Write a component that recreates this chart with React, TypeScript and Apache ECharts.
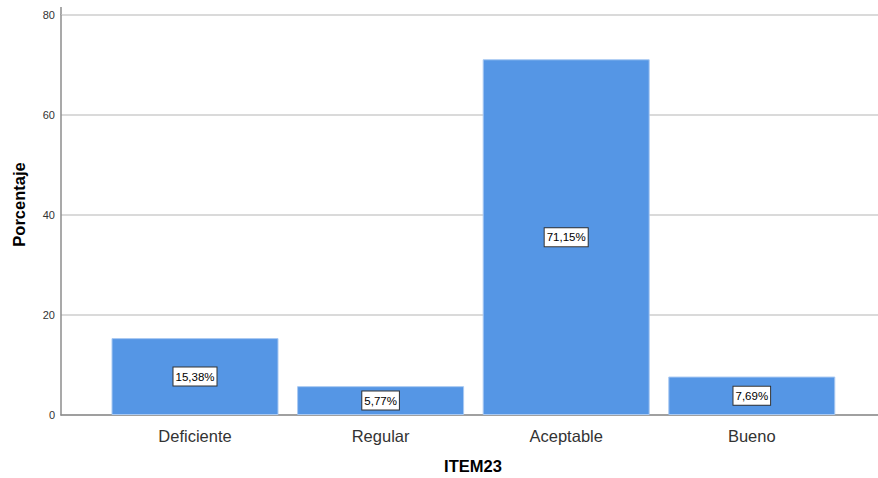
import React, { useEffect, useRef } from "react";
import * as echarts from "echarts";

const categories = ["Deficiente", "Regular", "Aceptable", "Bueno"];
const positions = [1, 2, 3, 4];
const values = [15.38, 5.77, 71.15, 7.69];
const valueLabels = ["15,38%", "5,77%", "71,15%", "7,69%"];
const yTicks = [0, 20, 40, 60, 80];

const FONT = "Liberation Sans, Arial, sans-serif";

export default function App() {
  const ref = useRef<HTMLDivElement>(null);
  useEffect(() => {
    if (!ref.current) return;
    const chart = echarts.init(ref.current, null, { renderer: "svg" });
    chart.setOption({
      animation: false,
      grid: { left: 61, right: 0, top: 15, bottom: 63 },
      xAxis: {
        type: "value",
        min: 0.278,
        max: 4.68,
        splitLine: { show: false },
        axisTick: { show: false },
        axisLine: { show: true, onZero: false, lineStyle: { color: "#8c8c8c", width: 1.5 } },
        axisLabel: {
          customValues: positions,
          formatter: (v: number) => categories[Math.round(v) - 1] ?? "",
          fontFamily: FONT,
          fontSize: 16.5,
          color: "#333",
          margin: 12,
        },
      },
      yAxis: {
        type: "value",
        min: 0,
        max: 80,
        interval: 20,
        axisLine: { show: true, lineStyle: { color: "#8c8c8c", width: 1.5 } },
        axisTick: { show: false },
        splitLine: { lineStyle: { color: "#dadada", width: 2 } },
        axisLabel: {
          fontFamily: FONT,
          fontSize: 11,
          color: "#333",
          margin: 6,
          formatter: (v: number) => (yTicks.includes(v) ? String(v) : ""),
        },
      },
      graphic: [
        {
          type: "line",
          shape: { x1: 61, y1: 7, x2: 61, y2: 15 },
          style: { stroke: "#8c8c8c", lineWidth: 1.5 },
        },
        {
          type: "text",
          x: 19,
          y: 204.5,
          rotation: Math.PI / 2,
          style: {
            text: "Porcentaje",
            fontFamily: FONT,
            fontSize: 16.5,
            fontWeight: "bold",
            fill: "#000",
            align: "center",
            verticalAlign: "middle",
          },
        },
        {
          type: "text",
          x: 473,
          y: 466,
          style: {
            text: "ITEM23",
            fontFamily: FONT,
            fontSize: 16.5,
            fontWeight: "bold",
            fill: "#000",
            align: "center",
            verticalAlign: "middle",
          },
        },
      ],
      series: [
        {
          type: "bar",
          barWidth: 167,
          data: positions.map((p, i) => [p, values[i]]),
          itemStyle: { color: "#5596e5", borderColor: "#a9c9f2", borderWidth: 1 },
          label: {
            show: true,
            position: "inside",
            formatter: (p: any) => valueLabels[p.dataIndex],
            fontFamily: FONT,
            fontSize: 11.5,
            color: "#000",
            backgroundColor: "#fff",
            borderColor: "#333",
            borderWidth: 1,
            padding: [3, 2, 3, 2],
          },
        },
      ],
    });
    return () => chart.dispose();
  }, []);
  return <div ref={ref} style={{ width: 878, height: 478, position: "absolute", left: 0, top: 0 }} />;
}
